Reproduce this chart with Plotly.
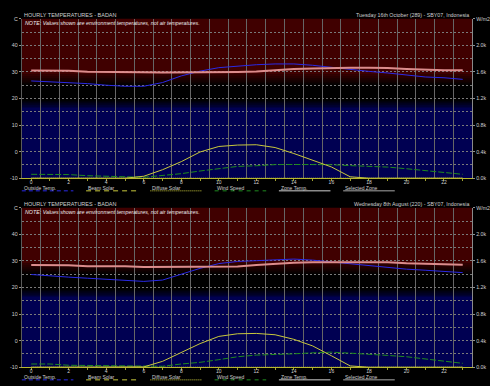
import plotly.graph_objects as go

# ---------------- data ----------------
hours = list(range(24))

oct_outside = [26.6, 26.3, 25.9, 25.6, 25.0, 24.6, 24.6, 26.0, 28.5, 30.3, 31.6, 32.2,
               32.7, 33.0, 33.0, 32.5, 31.7, 31.0, 30.2, 29.6, 28.8, 28.1, 27.8, 27.2]
oct_zone = [30.5, 30.5, 30.4, 30.1, 30.1, 29.9, 29.9, 29.8, 29.8, 29.8, 29.8, 30.0,
            30.2, 30.7, 31.1, 31.3, 31.5, 31.6, 31.6, 31.5, 31.1, 30.8, 30.6, 30.6]
oct_beam = [0, 0, 0, 0, 0, 0, 30, 128, 250, 395, 478, 499,
            504, 462, 372, 270, 170, 22, 0, 0, 0, 0, 0, 0]
oct_diffuse = [0] * 24
oct_wind = [59, 59, 55, 38, 35, 22, 15, 40, 69, 109, 143, 178,
            188, 205, 207, 207, 204, 190, 180, 168, 143, 118, 94, 59]

aug_outside = [24.9, 24.3, 23.9, 23.5, 23.1, 22.6, 22.3, 22.8, 25.0, 27.2, 29.0, 29.8,
               30.1, 30.5, 30.7, 30.3, 29.6, 29.0, 28.2, 27.7, 26.9, 26.5, 26.0, 25.6]
aug_zone = [28.5, 28.4, 28.4, 28.0, 28.0, 28.0, 27.7, 27.7, 27.7, 27.7, 27.7, 27.9,
            28.5, 29.0, 29.3, 29.5, 29.5, 29.6, 29.6, 29.5, 29.1, 28.9, 28.6, 28.6]
aug_beam = [0, 0, 0, 0, 0, 0, 5, 89, 222, 356, 464, 504,
            509, 489, 420, 321, 173, 20, 0, 0, 0, 0, 0, 0]
aug_diffuse = [0] * 24
aug_wind = [49, 49, 30, 25, 25, 25, 10, 15, 49, 74, 114, 158,
            183, 187, 202, 217, 227, 212, 198, 178, 158, 128, 99, 59]

temp_ticks = [-10, 0, 10, 20, 30, 40, 50]
temp_labels = ["-10", "0", "10", "20", "30", "40", "C"]
solar_ticks = [0, 400, 800, 1200, 1600, 2000, 2400]
solar_labels = ["0.0k", "0.4k", "0.8k", "1.2k", "1.6k", "2.0k", "W/m2"]
hour_labels = [str(h) if h % 2 == 0 else "" for h in hours]

panels = [
    dict(title="Tuesday 16th October (289) - SBY07, Indonesia",
         outside=oct_outside, zone=oct_zone, beam=oct_beam, diffuse=oct_diffuse, wind=oct_wind),
    dict(title="Wednesday 8th August (220) - SBY07, Indonesia",
         outside=aug_outside, zone=aug_zone, beam=aug_beam, diffuse=aug_diffuse, wind=aug_wind),
]
legend_items = ["Outside Temp.", "Beam Solar", "Diffuse Solar", "Wind Speed", "Zone Temp.", "Selected Zone"]

# ---------------- style ----------------
W, H = 490, 386
FONT = "Liberation Sans"
TXT = "#cfcfcf"
C_OUT = "#2a2ae6"
C_ZONE = "#dc8c8c"
C_BEAM = "#c8c83c"
C_WIND = "#1f8a1f"
RED = (64, 0, 0)
BLUE = (0, 0, 82)
BLACK = (0, 0, 0)

def px2x(p):
    return p / W

def py2y(p):
    return 1 - p / H

panel_top = [16, 208]
panel_bot = [178, 370]
xdom = [px2x(22), px2x(476)]


def lerp(a, b, f):
    return tuple(int(round(a[i] + (b[i] - a[i]) * f)) for i in range(3))


def bg(t):
    if t >= 29:
        return RED
    if t >= 25:
        return lerp(BLACK, RED, (t - 25) / 4)
    if t >= 19.5:
        return BLACK
    if t >= 16.5:
        return lerp(BLUE, BLACK, (t - 16.5) / 3)
    return BLUE


fig = go.Figure()
shapes = []
annotations = []

for i, p in enumerate(panels):
    xa = "x" if i == 0 else "x2"
    ya = "y" if i == 0 else "y2"
    yr = "y3" if i == 0 else "y4"

    fig.add_trace(go.Scatter(x=hours, y=p["wind"], xaxis=xa, yaxis=yr, mode="lines",
                             line=dict(color=C_WIND, width=1, dash="6px,2px"), showlegend=False))
    fig.add_trace(go.Scatter(x=hours, y=p["diffuse"], xaxis=xa, yaxis=yr, mode="lines",
                             line=dict(color=C_BEAM, width=1, dash="1px,1px"), showlegend=False))
    fig.add_trace(go.Scatter(x=hours, y=p["beam"], xaxis=xa, yaxis=yr, mode="lines",
                             line=dict(color=C_BEAM, width=1), showlegend=False))
    fig.add_trace(go.Scatter(x=hours, y=p["outside"], xaxis=xa, yaxis=ya, mode="lines",
                             line=dict(color=C_OUT, width=1), showlegend=False))
    fig.add_trace(go.Scatter(x=hours, y=p["zone"], xaxis=xa, yaxis=ya, mode="lines",
                             line=dict(color=C_ZONE, width=2), showlegend=False))

    # background gradient bands
    xref = xa + " domain"
    shapes.append(dict(type="rect", xref=xref, yref=ya, x0=0, x1=1, y0=-10, y1=16.5,
                       fillcolor="rgb(%d,%d,%d)" % BLUE, line=dict(width=0), layer="below"))
    shapes.append(dict(type="rect", xref=xref, yref=ya, x0=0, x1=1, y0=29, y1=51,
                       fillcolor="rgb(%d,%d,%d)" % RED, line=dict(width=0), layer="below"))
    t = 16.5
    while t < 29:
        c = bg(t + 0.125)
        shapes.append(dict(type="rect", xref=xref, yref=ya, x0=0, x1=1, y0=t, y1=t + 0.26,
                           fillcolor="rgb(%d,%d,%d)" % c, line=dict(width=0), layer="below"))
        t += 0.25

    off = 192 * i
    annotations.append(dict(text="HOURLY TEMPERATURES - BADAN", xref="paper", yref="paper",
                            x=px2x(22), y=py2y(12 + off), xanchor="left", yanchor="middle",
                            showarrow=False, font=dict(family=FONT, size=5.5, color=TXT)))
    annotations.append(dict(text="<i>NOTE: Values shown are environment temperatures, not air temperatures.</i>",
                            xref="paper", yref="paper",
                            x=px2x(23), y=py2y(20.5 + off), xanchor="left", yanchor="middle",
                            showarrow=False, font=dict(family=FONT, size=5.3, color="#ececec")))
    annotations.append(dict(text=p["title"], xref="paper", yref="paper",
                            x=px2x(475), y=py2y(12 + off), xanchor="right", yanchor="middle",
                            showarrow=False, font=dict(family=FONT, size=5.3, color=TXT)))

    # legend row
    styles = [
        dict(color=C_OUT, width=1, dash="4px,3px"),
        dict(color=C_BEAM, width=1, dash="5px,4px"),
        dict(color=C_BEAM, width=1, dash="1px,1px"),
        dict(color=C_WIND, width=1, dash="4px,4px"),
        dict(color="#d0d0d0", width=1),
        dict(color="#a8a8a8", width=1),
    ]
    for k, name in enumerate(legend_items):
        x0 = 22 + 64.8 * k
        annotations.append(dict(text=name, xref="paper", yref="paper",
                                x=px2x(x0), y=py2y(187.6 + off), xanchor="left", yanchor="middle",
                                showarrow=False, font=dict(family=FONT, size=5, color=TXT)))
        shapes.append(dict(type="line", xref="paper", yref="paper",
                           x0=px2x(x0), x1=px2x(x0 + 52), y0=py2y(190.8 + off), y1=py2y(190.8 + off),
                           line=styles[k]))

ydoms = [[py2y(panel_bot[i]), py2y(panel_top[i])] for i in range(2)]

common_x = dict(range=[-0.5, 23.5], tickmode="array", tickvals=hours, ticktext=hour_labels,
                ticks="outside", ticklen=2, tickcolor="#a0a030", showgrid=False,
                showline=True, linecolor="#b8b830", linewidth=1, zeroline=False,
                ticklabelstandoff=-3,
                tickfont=dict(family=FONT, size=5, color=TXT),
                minor=dict(tickmode="array", tickvals=[h + 0.5 for h in hours[:-1]],
                           showgrid=True, gridcolor="#666666", gridwidth=1, ticks=""),
                domain=xdom, fixedrange=True)
common_y = dict(range=[-10, 50], tickmode="array", tickvals=temp_ticks, ticktext=temp_labels,
                ticks="outside", ticklen=2, tickcolor="#909090",
                showgrid=True, gridcolor="#7a7a7a", griddash="2px,2px", gridwidth=1,
                minor=dict(tickmode="array", tickvals=[-5, 5, 15, 25, 35, 45],
                           showgrid=True, gridcolor="#7a7a7a", griddash="2px,2px", gridwidth=1, ticks=""),
                zeroline=False, showline=True, linecolor="#5a5a5a",
                tickfont=dict(family=FONT, size=5.3, color=TXT), fixedrange=True)
common_r = dict(range=[0, 2400], tickmode="array", tickvals=solar_ticks, ticktext=solar_labels,
                ticks="outside", ticklen=2, tickcolor="#909090", side="right",
                showgrid=False, zeroline=False, showline=True, linecolor="#8a8a8a",
                tickfont=dict(family=FONT, size=5.3, color=TXT), fixedrange=True)

fig.update_layout(
    width=W, height=H, margin=dict(l=0, r=0, t=0, b=0),
    paper_bgcolor="black", plot_bgcolor="black",
    showlegend=False,
    xaxis=dict(common_x, anchor="y"),
    xaxis2=dict(common_x, anchor="y2"),
    yaxis=dict(common_y, domain=ydoms[0], anchor="x"),
    yaxis2=dict(common_y, domain=ydoms[1], anchor="x2"),
    yaxis3=dict(common_r, overlaying="y", anchor="x"),
    yaxis4=dict(common_r, overlaying="y2", anchor="x2"),
    shapes=shapes, annotations=annotations,
)

fig.write_html("out.html", config={"displayModeBar": False},
               post_script="document.body.style.margin='0px';document.body.style.overflow='hidden';")
